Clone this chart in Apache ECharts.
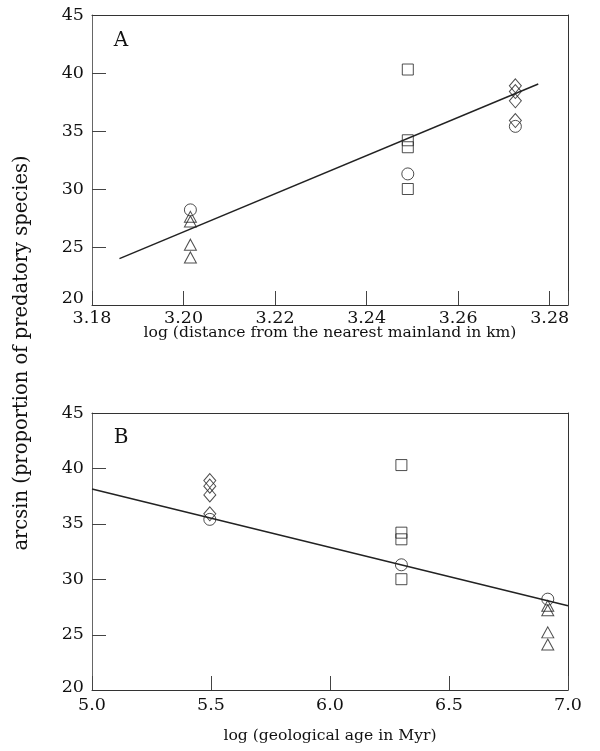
<!DOCTYPE html>
<html>
<head>
<meta charset="utf-8">
<script src="https://cdn.jsdelivr.net/npm/echarts@6/dist/echarts.min.js"></script>
<style>html,body{margin:0;padding:0;background:#fff;}#c{width:600px;height:751px;}</style>
</head>
<body>
<div id="c"></div>
<script>
// ---- data ----
const trianglesY = [27.6, 27.2, 25.2, 24.1];
const circlesY = [28.2, 31.3, 35.4];
const squaresY = [40.3, 34.2, 33.6, 30.0];
const diamondsY = [38.9, 38.4, 37.6, 35.9];
// x of the three groups: [triangle group, square group, diamond group]
const groupXA = [3.2015, 3.249, 3.2725];   // log distance
const groupXB = [6.915, 6.30, 5.495];      // log age
const fitAX = [3.186, 3.2775], fitAY = [24.0, 39.05];
const fitBX = [5.0, 7.0], fitBY = [38.15, 27.6];
const yTicks = [20, 25, 30, 35, 40, 45];
const xTicksA = ['3.18', '3.20', '3.22', '3.24', '3.26', '3.28'];
const xTicksB = ['5.0', '5.5', '6.0', '6.5', '7.0'];
const xTitleA = 'log (distance from the nearest mainland in km)';
const xTitleB = 'log (geological age in Myr)';
const yTitle = 'arcsin (proportion of predatory species)';

const FONT = 'DejaVu Serif';
const INK = '#222';
const X_MIN_A = 3.18, X_MAX_A = 3.284, X_MIN_B = 5.0, X_MAX_B = 7.0;

function pts(x, ys) { return ys.map(y => [x, y]); }

function markerSeries(xi, yi, gx) {
  const base = {
    type: 'scatter', xAxisIndex: xi, yAxisIndex: yi, silent: true,
    itemStyle: { color: 'rgba(0,0,0,0)', borderColor: INK, borderWidth: 1 },
    z: 3
  };
  return [
    Object.assign({}, base, { symbol: 'triangle', symbolSize: [12, 11], data: pts(gx[0], trianglesY) }),
    Object.assign({}, base, { symbol: 'rect', symbolSize: 11, data: pts(gx[1], squaresY) }),
    Object.assign({}, base, { symbol: 'diamond', symbolSize: [12, 14], data: pts(gx[2], diamondsY) }),
    Object.assign({}, base, { symbol: 'circle', symbolSize: 12, data: [[gx[0], circlesY[0]], [gx[1], circlesY[1]], [gx[2], circlesY[2]]] })
  ];
}

function lineSeries(xi, yi, xs, ys) {
  return {
    type: 'line', xAxisIndex: xi, yAxisIndex: yi, silent: true, symbol: 'none',
    lineStyle: { color: INK, width: 1.5 }, z: 2,
    data: xs.map((x, i) => [x, ys[i]])
  };
}

// inward y ticks drawn through the axis scale
function yTickSeries(xi, yi, xMin) {
  return {
    type: 'custom', xAxisIndex: xi, yAxisIndex: yi, silent: true, z: 4, clip: false,
    data: yTicks.slice(1, -1).map(v => [xMin, v]),
    renderItem: function (params, api) {
      const p = api.coord([api.value(0), api.value(1)]);
      const y = Math.round(p[1]) + 0.5;
      return { type: 'line', shape: { x1: p[0], y1: y, x2: p[0] + 14, y2: y },
               style: { stroke: '#444', lineWidth: 1 } };
    }
  };
}

function pickLabel(labels, v) {
  for (const s of labels) { if (Math.abs(Number(s) - v) < 1e-6) return s; }
  return '';
}

function xAxis(grid, min, max, interval, labels, margin) {
  return {
    type: 'value', gridIndex: grid, position: 'bottom', min: min, max: max, interval: interval,
    axisLine: { show: true, onZero: false, lineStyle: { color: '#333', width: 1 } },
    axisTick: { show: true, inside: true, length: 14, lineStyle: { color: '#444', width: 1 } },
    axisLabel: { show: true, color: '#111', fontFamily: FONT, fontSize: 17.5, margin: margin, showMinLabel: true, showMaxLabel: true,
                 formatter: v => pickLabel(labels, v) },
    splitLine: { show: false }
  };
}

function yAxis(grid, lift) {
  const labels = yTicks.map(String);
  return {
    type: 'value', gridIndex: grid, position: 'left', min: 20, max: 45, interval: 5,
    axisLine: { show: true, onZero: false, lineStyle: { color: '#666', width: 1 } },
    axisTick: { show: false },
    axisLabel: { show: true, color: '#111', fontFamily: FONT, fontSize: 17.5, margin: 8, showMinLabel: true, showMaxLabel: true,
                 formatter: v => v === 20 ? '{lo|20}' : pickLabel(labels, v),
                 rich: { lo: { fontFamily: FONT, fontSize: 17.5, color: '#111', padding: [0, 0, lift, 0] } } },
    splitLine: { show: false }
  };
}

function borderAxis(kind, grid, min, max) {
  return {
    type: 'value', gridIndex: grid, position: kind === 'x' ? 'top' : 'right', min: min, max: max,
    axisLine: { show: true, onZero: false, lineStyle: { color: '#333', width: 1 } },
    axisTick: { show: false }, axisLabel: { show: false }, splitLine: { show: false }
  };
}

const chart = echarts.init(document.getElementById('c'), null, { renderer: 'canvas' });
chart.setOption({
  backgroundColor: '#fff',
  animation: false,
  grid: [
    { left: 92, top: 15, width: 476, height: 290 },
    { left: 92, top: 413, width: 476, height: 277 }
  ],
  xAxis: [
    xAxis(0, X_MIN_A, X_MAX_A, 0.02, xTicksA, 4),
    xAxis(1, X_MIN_B, X_MAX_B, 0.5, xTicksB, 6),
    borderAxis('x', 0, X_MIN_A, X_MAX_A),
    borderAxis('x', 1, X_MIN_B, X_MAX_B)
  ],
  yAxis: [yAxis(0, 14), yAxis(1, 6), borderAxis('y', 0, 20, 45), borderAxis('y', 1, 20, 45)],
  series: [].concat(
    markerSeries(0, 0, groupXA),
    [lineSeries(0, 0, fitAX, fitAY)],
    markerSeries(1, 1, groupXB),
    [lineSeries(1, 1, fitBX, fitBY)],
    [yTickSeries(0, 0, X_MIN_A), yTickSeries(1, 1, X_MIN_B)]
  ),
  graphic: [
    { type: 'text', x: 121, y: 41, style: { text: 'A', font: '20px "' + FONT + '"', fill: '#111', align: 'center', verticalAlign: 'middle' } },
    { type: 'text', x: 121, y: 438, style: { text: 'B', font: '20px "' + FONT + '"', fill: '#111', align: 'center', verticalAlign: 'middle' } },
    { type: 'text', x: 330, y: 333, style: { text: xTitleA, font: '15.6px "' + FONT + '"', fill: '#111', align: 'center', verticalAlign: 'middle' } },
    { type: 'text', x: 330, y: 736, style: { text: xTitleB, font: '15.6px "' + FONT + '"', fill: '#111', align: 'center', verticalAlign: 'middle' } },
    { type: 'text', x: 22, y: 353, rotation: Math.PI / 2, style: { text: yTitle, font: '19.5px "' + FONT + '"', fill: '#111', align: 'center', verticalAlign: 'middle' } }
  ]
});
</script>
</body>
</html>
